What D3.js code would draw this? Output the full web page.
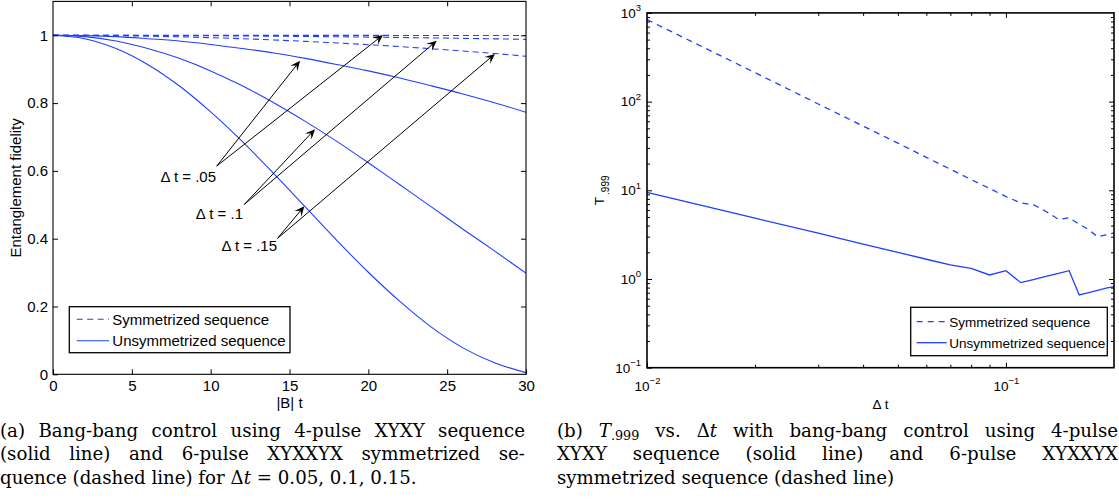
<!DOCTYPE html>
<html>
<head>
<meta charset="utf-8">
<script src="https://cdn.jsdelivr.net/npm/d3@7"></script>
<style>
  body { margin: 0; background: #fff; }
  #wrap { position: relative; width: 1119px; height: 503px; overflow: hidden; }
  svg { position: absolute; left: 0; top: 0; }
  svg text { font-family: "Liberation Sans", Arial, Helvetica, sans-serif; fill: #000; }
  .cap { position: absolute; font-family: "DejaVu Serif", "Liberation Serif", serif;
         font-size: 17px; line-height: 23.3px; color: #000; }
  .cap div { white-space: nowrap; }
  .cap .j { text-align: justify; text-align-last: justify; }
  .cap sub { font-size: 70%; vertical-align: -0.25em; line-height: 0; }
</style>
</head>
<body>
<div id="wrap">
  <svg id="chart" width="1119" height="503"></svg>
  <div class="cap" id="capA" style="left:0px; top:419px; width:525px;"></div>
  <div class="cap" id="capB" style="left:557px; top:419px; width:561px;"></div>
</div>
<script>
// ---- data: panel (a) fidelity vs |B| t ----
const tVals = [0, 2, 4, 6, 8, 10, 12, 14, 16, 18, 20, 22, 24, 26, 28, 30];
const solid05 = [1, 0.999, 0.996, 0.990, 0.983, 0.973, 0.961, 0.948, 0.932, 0.914, 0.895, 0.874, 0.851, 0.827, 0.801, 0.773];
const solid10 = [1, 0.996, 0.983, 0.961, 0.932, 0.895, 0.851, 0.801, 0.746, 0.687, 0.624, 0.559, 0.494, 0.428, 0.364, 0.298];
const solid15 = [1, 0.990, 0.961, 0.914, 0.851, 0.774, 0.687, 0.592, 0.494, 0.395, 0.301, 0.215, 0.139, 0.078, 0.034, 0.005];
const dash05 = [1, 1.000, 1.000, 1.000, 0.9999, 0.9999, 0.9999, 0.9998, 0.9998, 0.9997, 0.9997, 0.9996, 0.9995, 0.9994, 0.9993, 0.9992];
const dash10 = [1, 1.000, 0.9998, 0.9995, 0.9991, 0.9987, 0.9981, 0.9974, 0.9966, 0.9957, 0.9947, 0.9935, 0.9923, 0.9910, 0.9896, 0.988];
const dash15 = [1, 0.9997, 0.9989, 0.9975, 0.9955, 0.9930, 0.9899, 0.9863, 0.9822, 0.9775, 0.9723, 0.9666, 0.9603, 0.9536, 0.9464, 0.938];
const xTicksA = [0, 5, 10, 15, 20, 25, 30];
const yTicksA = [0, 0.2, 0.4, 0.6, 0.8, 1];

// arrow annotations (data coords)
const arrowLabels = ['\u0394 t = .05', '\u0394 t = .1', '\u0394 t = .15'];
const arrowFrom = [[10.38, 0.614], [12.13, 0.501], [14.24, 0.401]];
const arrowTo = [
  [[15.67, 0.925], [20.93, 1.001]],
  [[16.62, 0.723], [24.34, 0.984]],
  [[15.94, 0.496], [28.03, 0.945]]
];
const labelAt = [[10.34, 0.567], [12.05, 0.458], [14.21, 0.364]];

// ---- data: panel (b) T.999 vs dt ----
const dtVals = [0.01, 0.02, 0.03, 0.04, 0.05, 0.06, 0.07, 0.08, 0.09, 0.10,
                0.11, 0.12, 0.13, 0.14, 0.15, 0.16, 0.17, 0.18, 0.19, 0.20];
const tSym = [840, 212, 94, 53, 34, 23.5, 17.3, 13.2, 10.5, 8.5,
              7.2, 6.8, 5.7, 4.7, 4.9, 4.15, 3.6, 3.0, 3.15, 3.3];
const tUnsym = [9.5, 4.85, 3.28, 2.47, 2.0, 1.67, 1.44, 1.32, 1.11, 1.24,
                0.91, 0.99, 1.08, 1.16, 1.24, 0.66, 0.70, 0.745, 0.79, 0.82];
const xMajorB = [0.01, 0.1];
const xMinorB = [0.02, 0.03, 0.04, 0.05, 0.06, 0.07, 0.08, 0.09];
const yMajorB = [0.1, 1, 10, 100, 1000];
const yMinorB = [0.2, 0.3, 0.4, 0.5, 0.6, 0.7, 0.8, 0.9, 2, 3, 4, 5, 6, 7, 8, 9,
                 20, 30, 40, 50, 60, 70, 80, 90, 200, 300, 400, 500, 600, 700, 800, 900];

const legendNames = ['Symmetrized sequence', 'Unsymmetrized sequence'];

const blue = '#1f3fff';
const svg = d3.select('#chart');

function styleAxis(g, size) {
  g.attr('font-size', size).attr('font-family', null);
  g.select('.domain').remove();
  g.selectAll('.tick line').attr('stroke', '#000');
}

// ================= panel (a) =================
const xA = d3.scaleLinear().domain([0, 30]).range([53, 526]);
const yA = d3.scaleLinear().domain([0, 1.1]).range([374.3, 1.4]);

svg.append('clipPath').attr('id', 'clipA').append('rect')
  .attr('x', xA(0)).attr('y', yA(1.1)).attr('width', xA(30) - xA(0)).attr('height', yA(0) - yA(1.1));

const gA = svg.append('g');
const lineA = d3.line().x((d, i) => xA(tVals[i])).y(d => yA(d)).curve(d3.curveMonotoneX);

const curvesA = [
  { v: dash05, dash: true }, { v: dash10, dash: true }, { v: dash15, dash: true },
  { v: solid05, dash: false }, { v: solid10, dash: false }, { v: solid15, dash: false }
];
gA.append('g').attr('clip-path', 'url(#clipA)').selectAll('path').data(curvesA).enter()
  .append('path')
  .attr('d', d => lineA(d.v))
  .attr('fill', 'none')
  .attr('stroke', blue)
  .attr('stroke-width', 1.1)
  .attr('stroke-dasharray', d => d.dash ? '6,4' : null);

gA.append('g').attr('transform', `translate(0,${yA(0)})`)
  .call(d3.axisBottom(xA).tickValues(xTicksA).tickSize(-5).tickPadding(6).tickSizeOuter(0))
  .call(g => styleAxis(g, 15));
gA.append('g').attr('transform', `translate(0,${yA(1.1)})`)
  .call(d3.axisTop(xA).tickValues(xTicksA.slice(1, -1)).tickSize(-5).tickFormat('').tickSizeOuter(0))
  .call(g => styleAxis(g, 15));
gA.append('g').attr('transform', `translate(${xA(0)},0)`)
  .call(d3.axisLeft(yA).tickValues(yTicksA).tickSize(-5).tickPadding(5).tickSizeOuter(0)
    .tickFormat(d => String(+d.toFixed(1))))
  .call(g => styleAxis(g, 15));
gA.append('g').attr('transform', `translate(${xA(30)},0)`)
  .call(d3.axisRight(yA).tickValues(yTicksA.slice(1)).tickSize(-5).tickFormat('').tickSizeOuter(0))
  .call(g => styleAxis(g, 15));

gA.append('rect')
  .attr('x', xA(0)).attr('y', yA(1.1)).attr('width', xA(30) - xA(0)).attr('height', yA(0) - yA(1.1))
  .attr('fill', 'none').attr('stroke', '#000').attr('stroke-width', 1.1);

gA.append('text').attr('x', (xA(0) + xA(30)) / 2).attr('y', 408)
  .attr('text-anchor', 'middle').attr('font-size', 15).text('|B| t');
gA.append('text').attr('transform', `translate(21,${(yA(0) + yA(1.1)) / 2}) rotate(-90)`)
  .attr('text-anchor', 'middle').attr('font-size', 15).text('Entanglement fidelity');

// arrows
function arrow(g, x1, y1, x2, y2) {
  const dx = x2 - x1, dy = y2 - y1, len = Math.hypot(dx, dy);
  const ux = dx / len, uy = dy / len, nx = -uy, ny = ux;
  const L = 10, W = 4.5;
  g.append('line').attr('x1', x1).attr('y1', y1)
    .attr('x2', x2 - ux * 6).attr('y2', y2 - uy * 6)
    .attr('stroke', '#000').attr('stroke-width', 1);
  const pts = [
    [x2, y2],
    [x2 - ux * L + nx * W, y2 - uy * L + ny * W],
    [x2 - ux * L * 0.6, y2 - uy * L * 0.6],
    [x2 - ux * L - nx * W, y2 - uy * L - ny * W]
  ];
  g.append('polygon').attr('points', pts.map(p => p.join(',')).join(' ')).attr('fill', '#000');
}
const gArr = gA.append('g');
arrowLabels.forEach((lab, i) => {
  const [fx, fy] = arrowFrom[i];
  arrowTo[i].forEach(([tx, ty]) => arrow(gArr, xA(fx), yA(fy), xA(tx), yA(ty)));
  gArr.append('text').attr('x', xA(labelAt[i][0])).attr('y', yA(labelAt[i][1]))
    .attr('text-anchor', 'end').attr('font-size', 15).text(lab);
});

// legend (a)
const legA = gA.append('g');
legA.append('rect').attr('x', 69.3).attr('y', 306.7).attr('width', 220.7).attr('height', 46)
  .attr('fill', '#fff').attr('stroke', '#000').attr('stroke-width', 1.3);
legendNames.forEach((name, i) => {
  const y = 319.3 + i * 21.4;
  legA.append('line').attr('x1', 76.7).attr('x2', 109).attr('y1', y).attr('y2', y)
    .attr('stroke', blue).attr('stroke-width', 1.1).attr('stroke-dasharray', i === 0 ? '6,4.5' : null);
  legA.append('text').attr('x', 112.3).attr('y', y + 5.3).attr('font-size', 15).text(name);
});

// ================= panel (b) =================
const xB = d3.scaleLog().domain([0.01, 0.2]).range([647, 1114]);
const yB = d3.scaleLog().domain([0.1, 1000]).range([367.7, 12.9]);

const gB = svg.append('g');
const lineB = d3.line().x((d, i) => xB(dtVals[i])).y(d => yB(d));
gB.append('path').attr('d', lineB(tSym)).attr('fill', 'none').attr('stroke', blue)
  .attr('stroke-width', 1.3).attr('stroke-dasharray', '6,5');
gB.append('path').attr('d', lineB(tUnsym)).attr('fill', 'none').attr('stroke', blue)
  .attr('stroke-width', 1.3);

function supLabels(g) {
  g.selectAll('.tick text').each(function (d) {
    const t = d3.select(this);
    const e = Math.round(Math.log10(d));
    t.text(null);
    t.append('tspan').text('10');
    t.append('tspan').attr('font-size', 9.5).attr('dy', -6.5).text(e < 0 ? '\u2212' + (-e) : String(e));
  });
}

// bottom
gB.append('g').attr('transform', `translate(0,${yB(0.1)})`)
  .call(d3.axisBottom(xB).tickValues(xMinorB).tickSize(-3).tickFormat('').tickSizeOuter(0))
  .call(g => styleAxis(g, 13.5));
gB.append('g').attr('transform', `translate(0,${yB(0.1)})`)
  .call(d3.axisBottom(xB).tickValues(xMajorB).tickSize(-5).tickPadding(13.5).tickSizeOuter(0))
  .call(g => styleAxis(g, 13.5)).call(supLabels);
// top
gB.append('g').attr('transform', `translate(0,${yB(1000)})`)
  .call(d3.axisTop(xB).tickValues(xMinorB).tickSize(-3).tickFormat('').tickSizeOuter(0))
  .call(g => styleAxis(g, 13.5));
gB.append('g').attr('transform', `translate(0,${yB(1000)})`)
  .call(d3.axisTop(xB).tickValues([0.1]).tickSize(-5).tickFormat('').tickSizeOuter(0))
  .call(g => styleAxis(g, 13.5));
// left
gB.append('g').attr('transform', `translate(${xB(0.01)},0)`)
  .call(d3.axisLeft(yB).tickValues(yMinorB).tickSize(-3).tickFormat('').tickSizeOuter(0))
  .call(g => styleAxis(g, 13.5));
gB.append('g').attr('transform', `translate(${xB(0.01)},0)`)
  .call(d3.axisLeft(yB).tickValues(yMajorB).tickSize(-5).tickPadding(6).tickSizeOuter(0))
  .call(g => styleAxis(g, 13.5)).call(supLabels);
// right
gB.append('g').attr('transform', `translate(${xB(0.2)},0)`)
  .call(d3.axisRight(yB).tickValues(yMinorB).tickSize(-3).tickFormat('').tickSizeOuter(0))
  .call(g => styleAxis(g, 13.5));
gB.append('g').attr('transform', `translate(${xB(0.2)},0)`)
  .call(d3.axisRight(yB).tickValues(yMajorB.slice(1, -1)).tickSize(-5).tickFormat('').tickSizeOuter(0))
  .call(g => styleAxis(g, 13.5));

gB.append('rect')
  .attr('x', xB(0.01)).attr('y', yB(1000)).attr('width', xB(0.2) - xB(0.01)).attr('height', yB(0.1) - yB(1000))
  .attr('fill', 'none').attr('stroke', '#000').attr('stroke-width', 1.6);

gB.append('text').attr('x', (xB(0.01) + xB(0.2)) / 2).attr('y', 409)
  .attr('text-anchor', 'middle').attr('font-size', 13.5).text('\u0394 t');
const yl = gB.append('text').attr('transform', `translate(604,${(yB(0.1) + yB(1000)) / 2}) rotate(-90)`)
  .attr('text-anchor', 'middle').attr('font-size', 13.5);
yl.append('tspan').text('T');
yl.append('tspan').attr('dx', 2).attr('dy', 5).attr('font-size', 10).text('.999');

// legend (b)
const legB = gB.append('g');
legB.append('rect').attr('x', 910.7).attr('y', 307.3).attr('width', 196.6).attr('height', 48.4)
  .attr('fill', '#fff').attr('stroke', '#000').attr('stroke-width', 1.3);
legendNames.forEach((name, i) => {
  const y = 321.7 + i * 21;
  legB.append('line').attr('x1', 916.7).attr('x2', 946.7).attr('y1', y).attr('y2', y)
    .attr('stroke', blue).attr('stroke-width', 1.3).attr('stroke-dasharray', i === 0 ? '6,5' : null);
  legB.append('text').attr('x', 949.3).attr('y', y + 4.8).attr('font-size', 13.5).text(name);
});

// ---- captions ----
const capALines = [
  '(a) Bang-bang control using 4-pulse XYXY sequence',
  '(solid line) and 6-pulse XYXXYX symmetrized se-',
  'quence (dashed line) for \u0394<i>t</i> = 0.05, 0.1, 0.15.'
];
const capBLines = [
  '(b) <i>T</i><sub>.999</sub> vs. \u0394<i>t</i> with bang-bang control using 4-pulse',
  'XYXY sequence (solid line) and 6-pulse XYXXYX',
  'symmetrized sequence (dashed line)'
];
[['#capA', capALines], ['#capB', capBLines]].forEach(([id, lines]) => {
  d3.select(id).selectAll('div').data(lines).enter().append('div')
    .attr('class', (d, i) => i < lines.length - 1 ? 'j' : null)
    .html(d => d);
});

// fit the caption font so the last line of (a) spans about as wide as in the figure
const probe = d3.select('#capA').append('span').style('position', 'absolute').style('visibility', 'hidden')
  .style('white-space', 'nowrap').html(capALines[2]);
const w = probe.node().getBoundingClientRect().width;
probe.remove();
const fs = Math.max(14, Math.min(21, 17 * 417 / w));
d3.selectAll('.cap').style('font-size', fs + 'px');
</script>
</body>
</html>
